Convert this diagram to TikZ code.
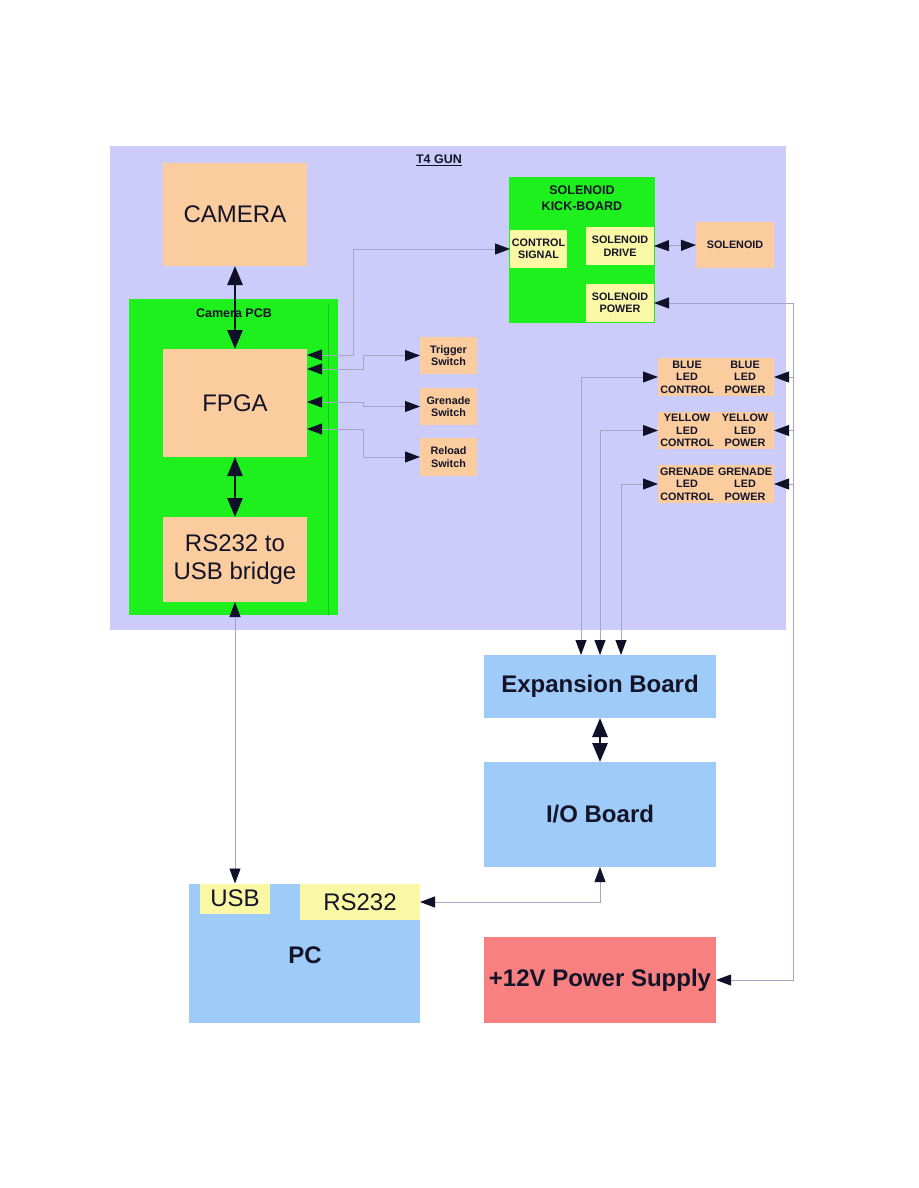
\documentclass[tikz,border=0pt]{standalone}
\usepackage{fontspec}
\setmainfont{Liberation Sans}
\usetikzlibrary{arrows.meta,calc}
\definecolor{lav}{RGB}{204,204,250}
\definecolor{peach}{RGB}{250,204,158}
\definecolor{pcbgreen}{RGB}{30,240,30}
\definecolor{pcbedge}{RGB}{20,200,20}
\definecolor{paleyel}{RGB}{250,248,165}
\definecolor{ltblue}{RGB}{159,203,248}
\definecolor{psured}{RGB}{248,128,128}
\definecolor{wire}{RGB}{165,165,200}
\definecolor{tipc}{RGB}{16,16,40}
\definecolor{txt}{RGB}{20,20,40}
\tikzset{
  box/.style={draw=none, inner sep=0pt, outer sep=0pt, text=txt, align=center},
  bigtxt/.style={font=\fontsize{24}{28}\selectfont},
  bigbold/.style={font=\fontsize{24}{28}\selectfont\bfseries},
  smalltxt/.style={font=\fontsize{10.8}{12.5}\selectfont\bfseries},
  titletxt/.style={font=\fontsize{12.5}{16}\selectfont\bfseries},
  wireline/.style={draw=wire, line width=0.8pt,
    {Triangle[length=15pt,width=11pt,color=tipc]}-{Triangle[length=15pt,width=11pt,color=tipc]}},
  wireto/.style={draw=wire, line width=0.8pt,
    -{Triangle[length=15pt,width=11pt,color=tipc]}},
  thickline/.style={draw=tipc, line width=2.8pt,
    {Triangle[length=19pt,width=15pt,color=tipc]}-{Triangle[length=19pt,width=15pt,color=tipc]}}
}
\begin{document}
\begin{tikzpicture}[x=1pt,y=-1pt]
\useasboundingbox (0,0) rectangle (918,1188);
% T4 gun background
\node[box, fill=lav, minimum width=676pt, minimum height=484pt] (gun) at (448,388) {};
\node[box, titletxt] (gunlabel) at (439,160) {\underline{T4 GUN}};
% camera
\node[box, fill=peach, bigtxt, minimum width=144pt, minimum height=103pt] (camera) at (235,214.5) {CAMERA};
% camera PCB
\node[box, fill=pcbgreen, minimum width=209pt, minimum height=316pt] (pcb) at (233.5,457) {};
\draw[pcbedge, line width=0.6pt] ([xshift=-10pt,yshift=-6pt]pcb.north east) coordinate (pe1) -- ([xshift=-10pt]pcb.south east) coordinate (pe2);
\node[box, titletxt] (pcblabel) at (234,313) {Camera PCB};
\node[box, fill=peach, bigtxt, minimum width=144pt, minimum height=108pt] (fpga) at (235,403) {FPGA};
\node[box, fill=peach, bigtxt, minimum width=144pt, minimum height=85pt] (bridge) at (235,559.5) {RS232 to\\USB bridge};
% solenoid kick-board
\node[box, fill=pcbgreen, minimum width=146pt, minimum height=146pt] (kick) at (582,250) {};
\node[box, titletxt] (kicklabel) at (582,198) {SOLENOID\\KICK-BOARD};
\node[box, fill=paleyel, smalltxt, minimum width=57pt, minimum height=38pt] (ctrl) at (538.5,249) {CONTROL\\SIGNAL};
\node[box, fill=paleyel, smalltxt, minimum width=68pt, minimum height=38pt] (drive) at (620,246) {SOLENOID\\DRIVE};
\node[box, fill=paleyel, smalltxt, minimum width=68pt, minimum height=38pt] (spower) at (620,303) {SOLENOID\\POWER};
\node[box, fill=peach, smalltxt, minimum width=78pt, minimum height=46pt] (solenoid) at (735,245) {SOLENOID};
% switches
\node[box, fill=peach, smalltxt, minimum width=57pt, minimum height=37pt] (trig) at (448.5,355.5) {Trigger\\Switch};
\node[box, fill=peach, smalltxt, minimum width=57pt, minimum height=37pt] (gren) at (448.5,406.5) {Grenade\\Switch};
\node[box, fill=peach, smalltxt, minimum width=57pt, minimum height=38pt] (reload) at (448.5,457) {Reload\\Switch};
% LED boxes
\node[box, fill=peach, smalltxt, minimum width=58pt, minimum height=38pt] (blueC) at (687,377) {BLUE\\LED\\CONTROL};
\node[box, fill=peach, smalltxt, minimum width=58pt, minimum height=38pt] (blueP) at (745,377) {BLUE\\LED\\POWER};
\node[box, fill=peach, smalltxt, minimum width=58pt, minimum height=37pt] (yelC) at (687,430.5) {YELLOW\\LED\\CONTROL};
\node[box, fill=peach, smalltxt, minimum width=58pt, minimum height=37pt] (yelP) at (745,430.5) {YELLOW\\LED\\POWER};
\node[box, fill=peach, smalltxt, minimum width=58pt, minimum height=38pt] (grnC) at (687,484) {GRENADE\\LED\\CONTROL};
\node[box, fill=peach, smalltxt, minimum width=58pt, minimum height=38pt] (grnP) at (745,484) {GRENADE\\LED\\POWER};
% lower boards
\node[box, fill=ltblue, bigbold, minimum width=232pt, minimum height=63pt] (exp) at (600,686.5) {Expansion Board};
\node[box, fill=ltblue, bigbold, minimum width=232pt, minimum height=105pt] (io) at (600,814.5) {I/O Board};
\node[box, fill=psured, bigbold, minimum width=232pt, minimum height=86pt] (psu) at (600,980) {+12V Power Supply};
\node[box, fill=ltblue, minimum width=231pt, minimum height=139pt] (pc) at (304.5,953.5) {};
\node[box, bigbold] (pclabel) at (305,955) {PC};
\node[box, fill=paleyel, bigtxt, minimum width=70pt, minimum height=30pt] (usb) at (235,898.5) {USB};
\node[box, fill=paleyel, bigtxt, minimum width=120pt, minimum height=36pt] (rs) at (360,902) {RS232};
% thick connectors
\draw[thickline] (camera.south) -- (fpga.north);
\draw[thickline] (fpga.south) -- (bridge.north);
\draw[thickline] (exp.south) -- (io.north);
% thin connectors
\draw[wireline] (bridge.south) -- (usb.north);
\draw[wireline] ([yshift=48pt]fpga.east) -- ++(46,0) |- (ctrl.west);
\draw[wireline] ([yshift=34pt]fpga.east) -- ++(56,0) |- (trig.west);
\draw[wireline] ([yshift=1pt]fpga.east) -- ++(56,0) |- (gren.west);
\draw[wireline] ([yshift=-26pt]fpga.east) -- ++(56,0) |- (reload.west);
\draw[wireline] (drive.east) -- (solenoid.west);
\draw[wireline] (blueC.west) -| ([xshift=-19pt]exp.north);
\draw[wireline] (yelC.west) -| (exp.north);
\draw[wireline] (grnC.west) -| ([xshift=21pt]exp.north);
\coordinate (bt) at (793,303);
\coordinate (bb) at (793,980);
\draw[wireline] (spower.east) -- (bt) -- (bb) -- (psu.east);
\draw[wireto] (blueP.east -| bt) -- (blueP.east);
\draw[wireto] (yelP.east -| bt) -- (yelP.east);
\draw[wireto] (grnP.east -| bt) -- (grnP.east);
\draw[wireline] (io.south) |- (rs.east);
\end{tikzpicture}
\end{document}
